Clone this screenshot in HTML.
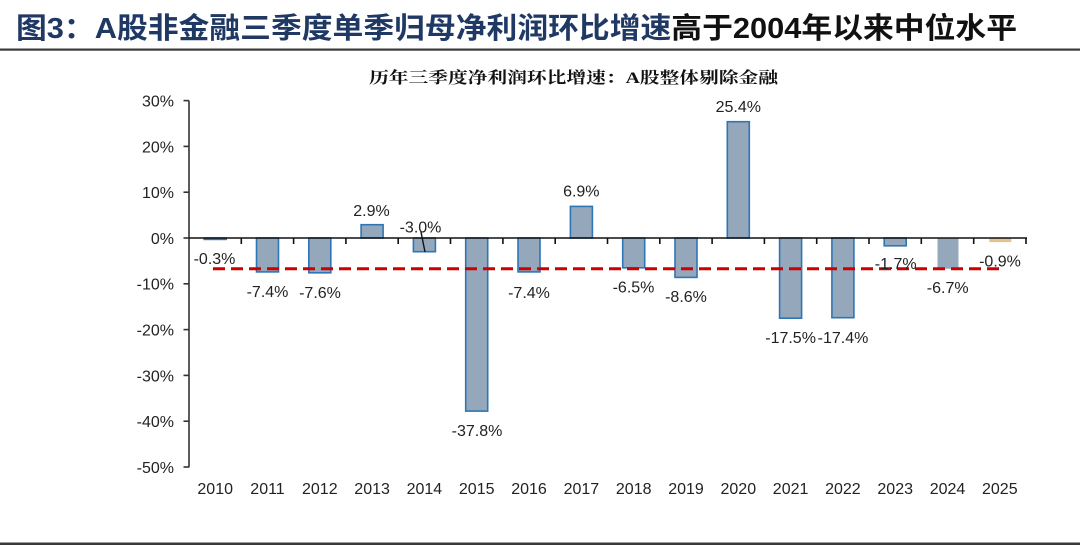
<!DOCTYPE html>
<html>
<head>
<meta charset="utf-8">
<style>
  html, body { margin:0; padding:0; background:#fff; }
  body { width:1080px; height:546px; overflow:hidden; }
  svg { display:block; }
  .lab { font-family:"Liberation Sans", Arial, sans-serif; font-size:16px; fill:#222; }
</style>
</head>
<body>
<svg width="1080" height="546" viewBox="0 0 1080 546" xmlns="http://www.w3.org/2000/svg">
  <rect width="1080" height="546" fill="#fff"/>

  <!-- Title -->
  <text x="16" y="38" textLength="1001" lengthAdjust="spacingAndGlyphs" font-family="'Liberation Sans','Noto Sans CJK SC',sans-serif" font-weight="bold" font-size="29"><tspan fill="#1f3864">图3：A股非金融三季度单季归母净利润环比增速</tspan><tspan fill="#111">高于2004年以来中位水平</tspan></text>
  <rect x="0" y="48.5" width="1080" height="2.2" fill="#3a3a3a"/>

  <!-- Subtitle -->
  <text x="369" y="83" textLength="409" lengthAdjust="spacingAndGlyphs" font-family="'Liberation Serif','Noto Serif CJK SC',serif" font-weight="bold" font-size="16" fill="#111">历年三季度净利润环比增速：A股整体剔除金融</text>

  <!-- Bars -->
  <g fill="#95a8bb" stroke="#2e75b6" stroke-width="1.6">
    <rect x="204.2" y="238" width="22" height="1.4"/>
    <rect x="256.5" y="238" width="22" height="33.9"/>
    <rect x="308.8" y="238" width="22" height="34.8"/>
    <rect x="361.1" y="224.7" width="22" height="13.3"/>
    <rect x="413.4" y="238" width="22" height="13.7"/>
    <rect x="465.7" y="238" width="22" height="173.1"/>
    <rect x="518.0" y="238" width="22" height="33.9"/>
    <rect x="570.4" y="206.4" width="22" height="31.6"/>
    <rect x="622.7" y="238" width="22" height="29.8"/>
    <rect x="675.0" y="238" width="22" height="39.4"/>
    <rect x="727.3" y="121.7" width="22" height="116.3"/>
    <rect x="779.6" y="238" width="22" height="80.2"/>
    <rect x="831.9" y="238" width="22" height="79.7"/>
    <rect x="884.2" y="238" width="22" height="7.8"/>
  </g>
  <rect x="937.5" y="238" width="21" height="30.7" fill="#95a8bb"/>
  <rect x="989.3" y="238" width="22" height="4.1" fill="#e6c28f"/>

  <!-- Axes -->
  <g stroke="#333" stroke-width="1.6" fill="none">
    <line x1="189" y1="100.6" x2="189" y2="467.4"/>
    <line x1="183.5" y1="100.6" x2="189" y2="100.6"/>
    <line x1="183.5" y1="146.4" x2="189" y2="146.4"/>
    <line x1="183.5" y1="192.2" x2="189" y2="192.2"/>
    <line x1="183.5" y1="238" x2="189" y2="238"/>
    <line x1="183.5" y1="283.8" x2="189" y2="283.8"/>
    <line x1="183.5" y1="329.6" x2="189" y2="329.6"/>
    <line x1="183.5" y1="375.4" x2="189" y2="375.4"/>
    <line x1="183.5" y1="421.2" x2="189" y2="421.2"/>
    <line x1="183.5" y1="467" x2="189" y2="467"/>
  </g>
  <g stroke="#111" stroke-width="1.6" fill="none">
    <line x1="189" y1="238" x2="1027" y2="238"/>
    <line x1="241.3" y1="238" x2="241.3" y2="244"/>
    <line x1="293.6" y1="238" x2="293.6" y2="244"/>
    <line x1="345.9" y1="238" x2="345.9" y2="244"/>
    <line x1="398.2" y1="238" x2="398.2" y2="244"/>
    <line x1="450.5" y1="238" x2="450.5" y2="244"/>
    <line x1="502.9" y1="238" x2="502.9" y2="244"/>
    <line x1="555.2" y1="238" x2="555.2" y2="244"/>
    <line x1="607.5" y1="238" x2="607.5" y2="244"/>
    <line x1="659.8" y1="238" x2="659.8" y2="244"/>
    <line x1="712.1" y1="238" x2="712.1" y2="244"/>
    <line x1="764.4" y1="238" x2="764.4" y2="244"/>
    <line x1="816.7" y1="238" x2="816.7" y2="244"/>
    <line x1="869.0" y1="238" x2="869.0" y2="244"/>
    <line x1="921.3" y1="238" x2="921.3" y2="244"/>
    <line x1="973.7" y1="238" x2="973.7" y2="244"/>
    <line x1="1026" y1="238" x2="1026" y2="244"/>
  </g>

  <!-- Median dashed line -->
  <line x1="213" y1="268.7" x2="1000" y2="268.7" stroke="#cc0000" stroke-width="3" stroke-dasharray="12 6"/>

  <!-- Leader line -->
  <line x1="421" y1="232" x2="425" y2="252" stroke="#111" stroke-width="1.4"/>

  <!-- Y labels -->
  <g class="lab" text-anchor="end">
    <text x="174" y="106.5">30%</text>
    <text x="174" y="152.3">20%</text>
    <text x="174" y="198.1">10%</text>
    <text x="174" y="243.9">0%</text>
    <text x="174" y="289.7">-10%</text>
    <text x="174" y="335.5">-20%</text>
    <text x="174" y="381.3">-30%</text>
    <text x="174" y="427.1">-40%</text>
    <text x="174" y="472.9">-50%</text>
  </g>

  <!-- X labels -->
  <g class="lab" text-anchor="middle">
    <text x="215.2" y="494">2010</text>
    <text x="267.5" y="494">2011</text>
    <text x="319.8" y="494">2012</text>
    <text x="372.1" y="494">2013</text>
    <text x="424.4" y="494">2014</text>
    <text x="476.7" y="494">2015</text>
    <text x="529.0" y="494">2016</text>
    <text x="581.4" y="494">2017</text>
    <text x="633.7" y="494">2018</text>
    <text x="686.0" y="494">2019</text>
    <text x="738.3" y="494">2020</text>
    <text x="790.6" y="494">2021</text>
    <text x="842.9" y="494">2022</text>
    <text x="895.2" y="494">2023</text>
    <text x="947.5" y="494">2024</text>
    <text x="999.8" y="494">2025</text>
  </g>

  <!-- Data labels -->
  <g class="lab" text-anchor="middle">
    <text x="214.5" y="263.8">-0.3%</text>
    <text x="267.5" y="296.8">-7.4%</text>
    <text x="320" y="297.8">-7.6%</text>
    <text x="371.5" y="215.8">2.9%</text>
    <text x="420.5" y="232.5">-3.0%</text>
    <text x="477" y="435.8">-37.8%</text>
    <text x="529" y="297.8">-7.4%</text>
    <text x="581.3" y="196.5">6.9%</text>
    <text x="633.5" y="292.5">-6.5%</text>
    <text x="686" y="301.8">-8.6%</text>
    <text x="738.3" y="111.8">25.4%</text>
    <text x="790.6" y="342.8">-17.5%</text>
    <text x="843" y="342.8">-17.4%</text>
    <text x="895.7" y="269.1">-1.7%</text>
    <text x="947.7" y="293.1">-6.7%</text>
    <text x="1000" y="266.5">-0.9%</text>
  </g>

  <!-- Bottom rule -->
  <rect x="0" y="542.5" width="1080" height="2.5" fill="#3a3a3a"/>
</svg>
</body>
</html>
